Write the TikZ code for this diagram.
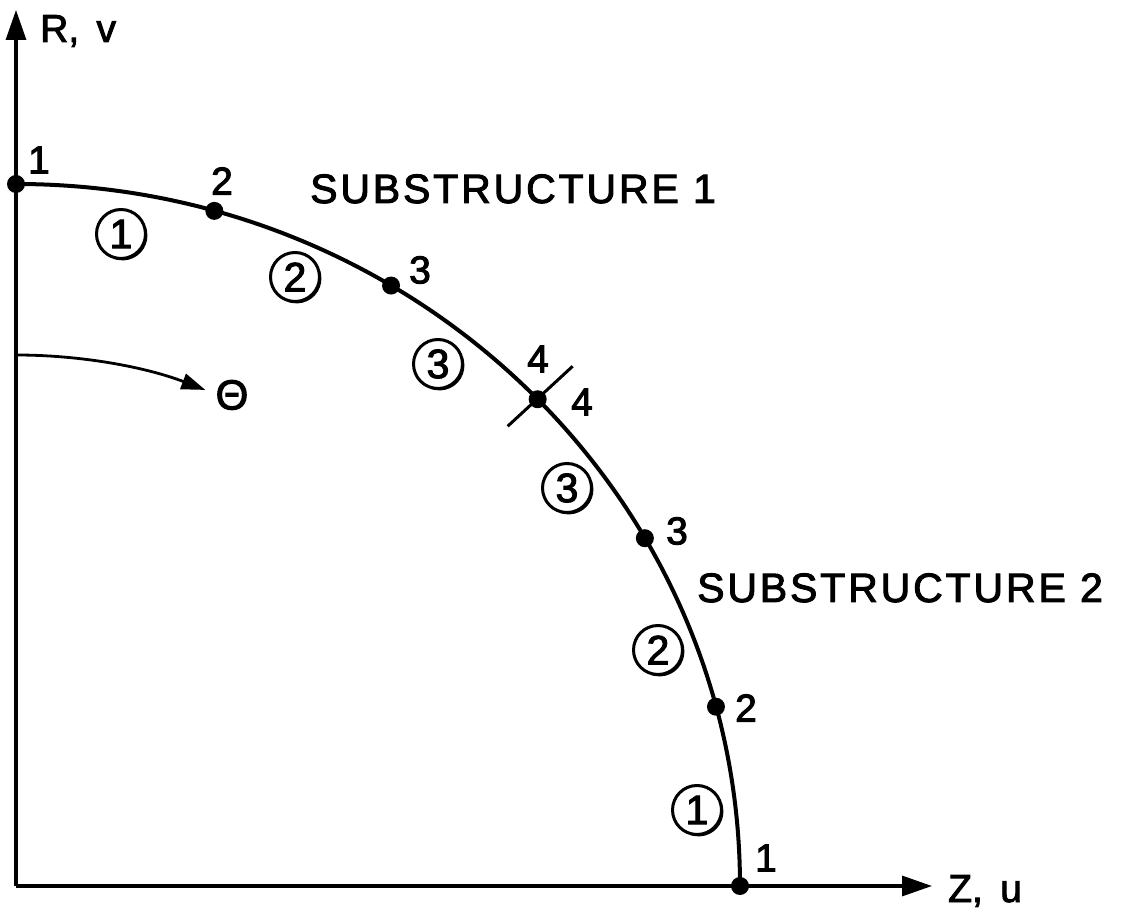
\documentclass[tikz,border=0pt]{standalone}
\usepackage{fontspec}
\setmainfont[FakeBold=2.4]{Liberation Sans}
\newfontfamily\wide[LetterSpace=7,FakeBold=2.4]{Liberation Sans}
\usetikzlibrary{arrows.meta,calc}
\begin{document}
\begin{tikzpicture}[x=1pt,y=1pt,
  axis/.style={line width=3.2pt,-{Triangle[length=30pt,width=20pt]}},
  arcline/.style={line width=4pt},
  dot/.style={circle,fill=black,inner sep=0pt,minimum size=18pt},
  num/.style={inner sep=0pt,font=\fontsize{39}{42}\selectfont},
  circnum/.style={circle,draw,line width=3pt,inner sep=0pt,minimum size=49pt,font=\fontsize{41}{44}\selectfont},
  title/.style={inner sep=0pt,anchor=base west,font=\wide\fontsize{41}{44}\selectfont},
  axlabel/.style={inner sep=0pt,anchor=base west,font=\fontsize{39}{42}\selectfont}]
\useasboundingbox (0,0) rectangle (1124,913);
% axes
\coordinate (O) at (16,27);
\coordinate (Ytop) at (16,903);
\coordinate (Xend) at (932,27);
\draw[axis] (O) -- (Ytop);
\draw[axis] (O) -- (Xend);
\node[axlabel] (rv) at (40,871) {R,\, v};
\node[axlabel] (zu) at (948,11) {Z,\, u};
% curve
\coordinate (p1a) at ([shift={(O)}]90:724pt and 702pt);
\coordinate (p2a) at ([shift={(O)}]74.1:724pt and 702pt);
\coordinate (p3a) at ([shift={(O)}]58.8:724pt and 702pt);
\coordinate (p4) at ([shift={(O)}]43.9:724pt and 702pt);
\coordinate (p3b) at ([shift={(O)}]29.7:724pt and 702pt);
\coordinate (p2b) at ([shift={(O)}]14.8:724pt and 702pt);
\coordinate (p1b) at ([shift={(O)}]0:724pt and 702pt);
\draw[arcline] (p1a) arc[start angle=90,end angle=0,x radius=724pt,y radius=702pt];
\foreach \p in {p1a,p2a,p3a,p4,p3b,p2b,p1b} \node[dot] (d\p) at (\p) {};
% cut mark
\coordinate (cA) at ($(p4)+(-30,-27)$);
\coordinate (cB) at ($(p4)+(35,33)$);
\draw[line width=3pt] (cA) -- (cB);
% node labels
\node[num] (l1a) at (39,753) {1};
\node[num] (l2a) at (222,732) {2};
\node[num] (l3a) at (420,643) {3};
\node[num] (l4a) at (538,554) {4};
\node[num] (l4b) at (582,511) {4};
\node[num] (l3b) at (677,382) {3};
\node[num] (l2b) at (746,205) {2};
\node[num] (l1b) at (766,55) {1};
% element numbers
\node[circnum] (e1a) at (121,679) {1};
\node[circnum] (e2a) at (295,636) {2};
\node[circnum] (e3a) at (438,549) {3};
\node[circnum] (e3b) at (567,425) {3};
\node[circnum] (e2b) at (658,263) {2};
\node[circnum] (e1b) at (697,103) {1};
\foreach \e in {e1a,e2a,e3a,e3b,e2b,e1b}
  \draw[line width=2.6pt] ([shift={(1.6,-1.6)}]\e.center) ++(-110:23.5pt) arc[start angle=-110,end angle=20,radius=23.5pt];
% titles
\node[title] (s1) at (310,710) {SUBSTRUCTURE 1};
\node[title] (s2) at (697,311) {SUBSTRUCTURE 2};
% theta
\coordinate (t0) at (16,558);
\draw[line width=2.8pt,-{Triangle[length=24pt,width=16pt]}] (t0) arc[start angle=90,end angle=69.1,radius=531pt];
\node[inner sep=0pt,font=\fontsize{42}{46}\selectfont] (th) at (232,518) {Θ};
\end{tikzpicture}
\end{document}
